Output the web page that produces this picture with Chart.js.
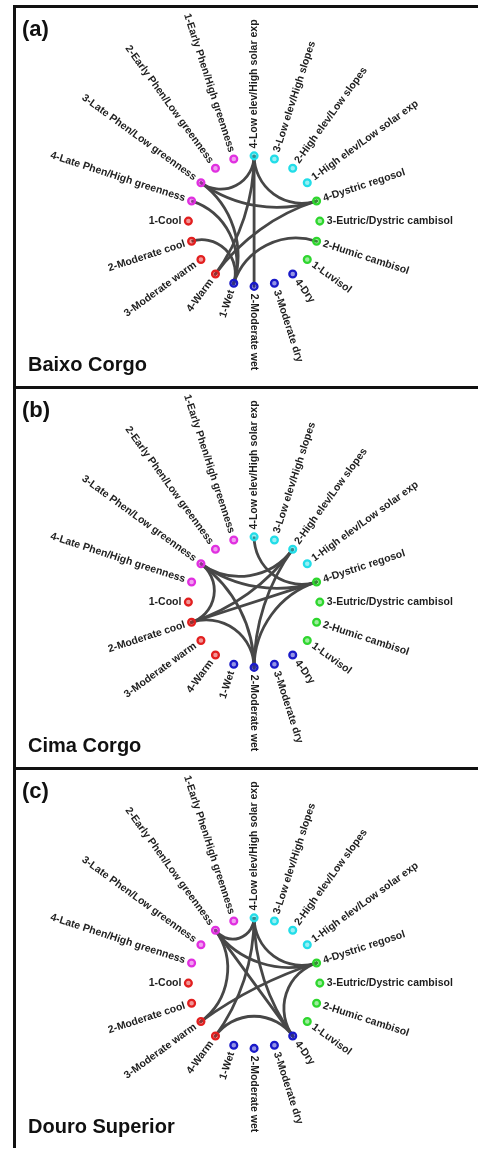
<!DOCTYPE html>
<html>
<head>
<meta charset="utf-8">
<script src="https://cdn.jsdelivr.net/npm/chart.js@4"></script>
<style>
  body { margin: 0; background: #fff; width: 478px; height: 1149px; overflow: hidden; position: relative; font-family: 'Liberation Sans', Arial, sans-serif; }
  .panel { position: absolute; left: 13px; width: 470px; height: 378px; border-top: 3px solid #111; border-left: 3px solid #111; }
  .panel canvas { position: absolute; left: -16px; top: -3px; }
  .tag { position: absolute; left: 6px; top: 8px; font-weight: bold; font-size: 22px; color: #111; }
  .region { position: absolute; left: 12px; top: 345px; font-weight: bold; font-size: 20px; color: #111; }
</style>
</head>
<body>
<div class="panel" style="top:5px"><canvas id="chartA" width="478" height="381"></canvas><div class="tag">(a)</div><div class="region">Baixo Corgo</div></div>
<div class="panel" style="top:386px"><canvas id="chartB" width="478" height="381"></canvas><div class="tag">(b)</div><div class="region">Cima Corgo</div></div>
<div class="panel" style="top:767px"><canvas id="chartC" width="478" height="381"></canvas><div class="tag">(c)</div><div class="region">Douro Superior</div></div>
<script>
// nodes, clockwise from the top
const nodeLabels = [
  '4-Low elev/High solar exp', '3-Low elev/High slopes', '2-High elev/Low slopes', '1-High elev/Low solar exp',
  '4-Dystric regosol', '3-Eutric/Dystric cambisol', '2-Humic cambisol', '1-Luvisol',
  '4-Dry', '3-Moderate dry', '2-Moderate wet', '1-Wet',
  '4-Warm', '3-Moderate warm', '2-Moderate cool', '1-Cool',
  '4-Late Phen/High greenness', '3-Late Phen/Low greenness', '2-Early Phen/Low greenness', '1-Early Phen/High greenness'
];
const nodeGroups = [
  'terrain', 'terrain', 'terrain', 'terrain',
  'soil', 'soil', 'soil', 'soil',
  'moisture', 'moisture', 'moisture', 'moisture',
  'temperature', 'temperature', 'temperature', 'temperature',
  'phenology', 'phenology', 'phenology', 'phenology'
];
const groupColors = { terrain: '#22dde8', soil: '#2ed62e', moisture: '#1a1ac8', temperature: '#e21f1f', phenology: '#e030e0' };

// links between nodes in each region
const baixoCorgoLinks = [
  ['4-Low elev/High solar exp', '3-Late Phen/Low greenness'],
  ['4-Low elev/High solar exp', '4-Dystric regosol'],
  ['4-Low elev/High solar exp', '2-Moderate wet'],
  ['4-Low elev/High solar exp', '4-Warm'],
  ['3-Late Phen/Low greenness', '4-Dystric regosol'],
  ['3-Late Phen/Low greenness', '1-Wet'],
  ['4-Late Phen/High greenness', '1-Wet'],
  ['2-Moderate cool', '1-Wet'],
  ['4-Dystric regosol', '4-Warm'],
  ['2-Humic cambisol', '1-Wet']
];
const cimaCorgoLinks = [
  ['4-Low elev/High solar exp', '4-Dystric regosol'],
  ['2-High elev/Low slopes', '3-Late Phen/Low greenness'],
  ['2-High elev/Low slopes', '2-Moderate cool'],
  ['2-High elev/Low slopes', '2-Moderate wet'],
  ['3-Late Phen/Low greenness', '4-Dystric regosol'],
  ['3-Late Phen/Low greenness', '2-Moderate cool'],
  ['3-Late Phen/Low greenness', '2-Moderate wet'],
  ['2-Moderate cool', '4-Dystric regosol'],
  ['2-Moderate cool', '2-Moderate wet'],
  ['4-Dystric regosol', '2-Moderate wet']
];
const douroSuperiorLinks = [
  ['4-Low elev/High solar exp', '2-Early Phen/Low greenness'],
  ['4-Low elev/High solar exp', '4-Dystric regosol'],
  ['4-Low elev/High solar exp', '4-Warm'],
  ['4-Low elev/High solar exp', '4-Dry'],
  ['2-Early Phen/Low greenness', '4-Dystric regosol'],
  ['2-Early Phen/Low greenness', '4-Dry'],
  ['2-Early Phen/Low greenness', '3-Moderate warm'],
  ['4-Dystric regosol', '3-Moderate warm'],
  ['4-Dystric regosol', '4-Dry'],
  ['4-Warm', '4-Dry']
];

const STEP = 360 / nodeLabels.length;
function nodeAngle(i) { return (-90 + STEP * i) * Math.PI / 180; }

// links are arcs that meet the node circle at right angles
const linkPlugin = {
  id: 'links',
  beforeDatasetsDraw(chart, args, opts) {
    const xs = chart.scales.x, ys = chart.scales.y;
    const cx = xs.getPixelForValue(0), cy = ys.getPixelForValue(0);
    const R = xs.getPixelForValue(1) - cx;
    const ctx = chart.ctx;
    ctx.save();
    ctx.strokeStyle = '#474747';
    ctx.lineWidth = 2.8;
    ctx.lineCap = 'round';
    opts.links.forEach(([a, b]) => {
      const i = nodeLabels.indexOf(a), j = nodeLabels.indexOf(b);
      const x1 = xs.getPixelForValue(Math.cos(nodeAngle(i))), y1 = ys.getPixelForValue(-Math.sin(nodeAngle(i)));
      const x2 = xs.getPixelForValue(Math.cos(nodeAngle(j))), y2 = ys.getPixelForValue(-Math.sin(nodeAngle(j)));
      let d = Math.abs(i - j) * STEP;
      if (d > 180) d = 360 - d;
      ctx.beginPath();
      ctx.moveTo(x1, y1);
      if (Math.abs(d - 180) < 0.5) {
        ctx.lineTo(x2, y2);
      } else {
        ctx.arcTo(cx, cy, x2, y2, R * Math.tan(d * Math.PI / 360));
      }
      ctx.stroke();
    });
    ctx.restore();
  }
};

// node names written outward along the radius
const labelPlugin = {
  id: 'nodeNames',
  afterDatasetsDraw(chart) {
    const xs = chart.scales.x, ys = chart.scales.y;
    const cx = xs.getPixelForValue(0), cy = ys.getPixelForValue(0);
    const R = xs.getPixelForValue(1) - cx;
    const ctx = chart.ctx;
    ctx.save();
    ctx.fillStyle = '#1e1e1e';
    ctx.font = 'bold 10.5px "Liberation Sans", Arial, sans-serif';
    ctx.textBaseline = 'middle';
    nodeLabels.forEach((name, i) => {
      const ang = nodeAngle(i);
      const r = R + 7;
      ctx.save();
      ctx.translate(cx + r * Math.cos(ang), cy + r * Math.sin(ang));
      if (i <= nodeLabels.length / 2) {
        ctx.rotate(ang);
        ctx.textAlign = 'left';
      } else {
        ctx.rotate(ang + Math.PI);
        ctx.textAlign = 'right';
      }
      ctx.fillText(name, 0, 0);
      ctx.restore();
    });
    ctx.restore();
  }
};

function drawPanel(id, links) {
  const W = 478, H = 381, unit = 67.5, cxPx = 254.5, cyPx = 217;
  const points = nodeLabels.map((n, i) => ({ x: Math.cos(nodeAngle(i)), y: -Math.sin(nodeAngle(i)) }));
  const colors = nodeGroups.map(g => groupColors[g]);
  new Chart(document.getElementById(id).getContext('2d'), {
    type: 'scatter',
    data: {
      datasets: [{
        data: points,
        pointRadius: 3.4,
        pointBorderWidth: 2.3,
        pointBorderColor: colors,
        pointBackgroundColor: colors.map(c => c + '77')
      }]
    },
    options: {
      responsive: false,
      animation: false,
      layout: { padding: 0 },
      plugins: { legend: { display: false }, tooltip: { enabled: false }, links: { links: links } },
      scales: {
        x: { type: 'linear', display: false, min: -cxPx / unit, max: (W - cxPx) / unit },
        y: { type: 'linear', display: false, min: -(H - cyPx) / unit, max: cyPx / unit }
      }
    },
    plugins: [linkPlugin, labelPlugin]
  });
}

drawPanel('chartA', baixoCorgoLinks);
drawPanel('chartB', cimaCorgoLinks);
drawPanel('chartC', douroSuperiorLinks);
</script>
</body>
</html>
